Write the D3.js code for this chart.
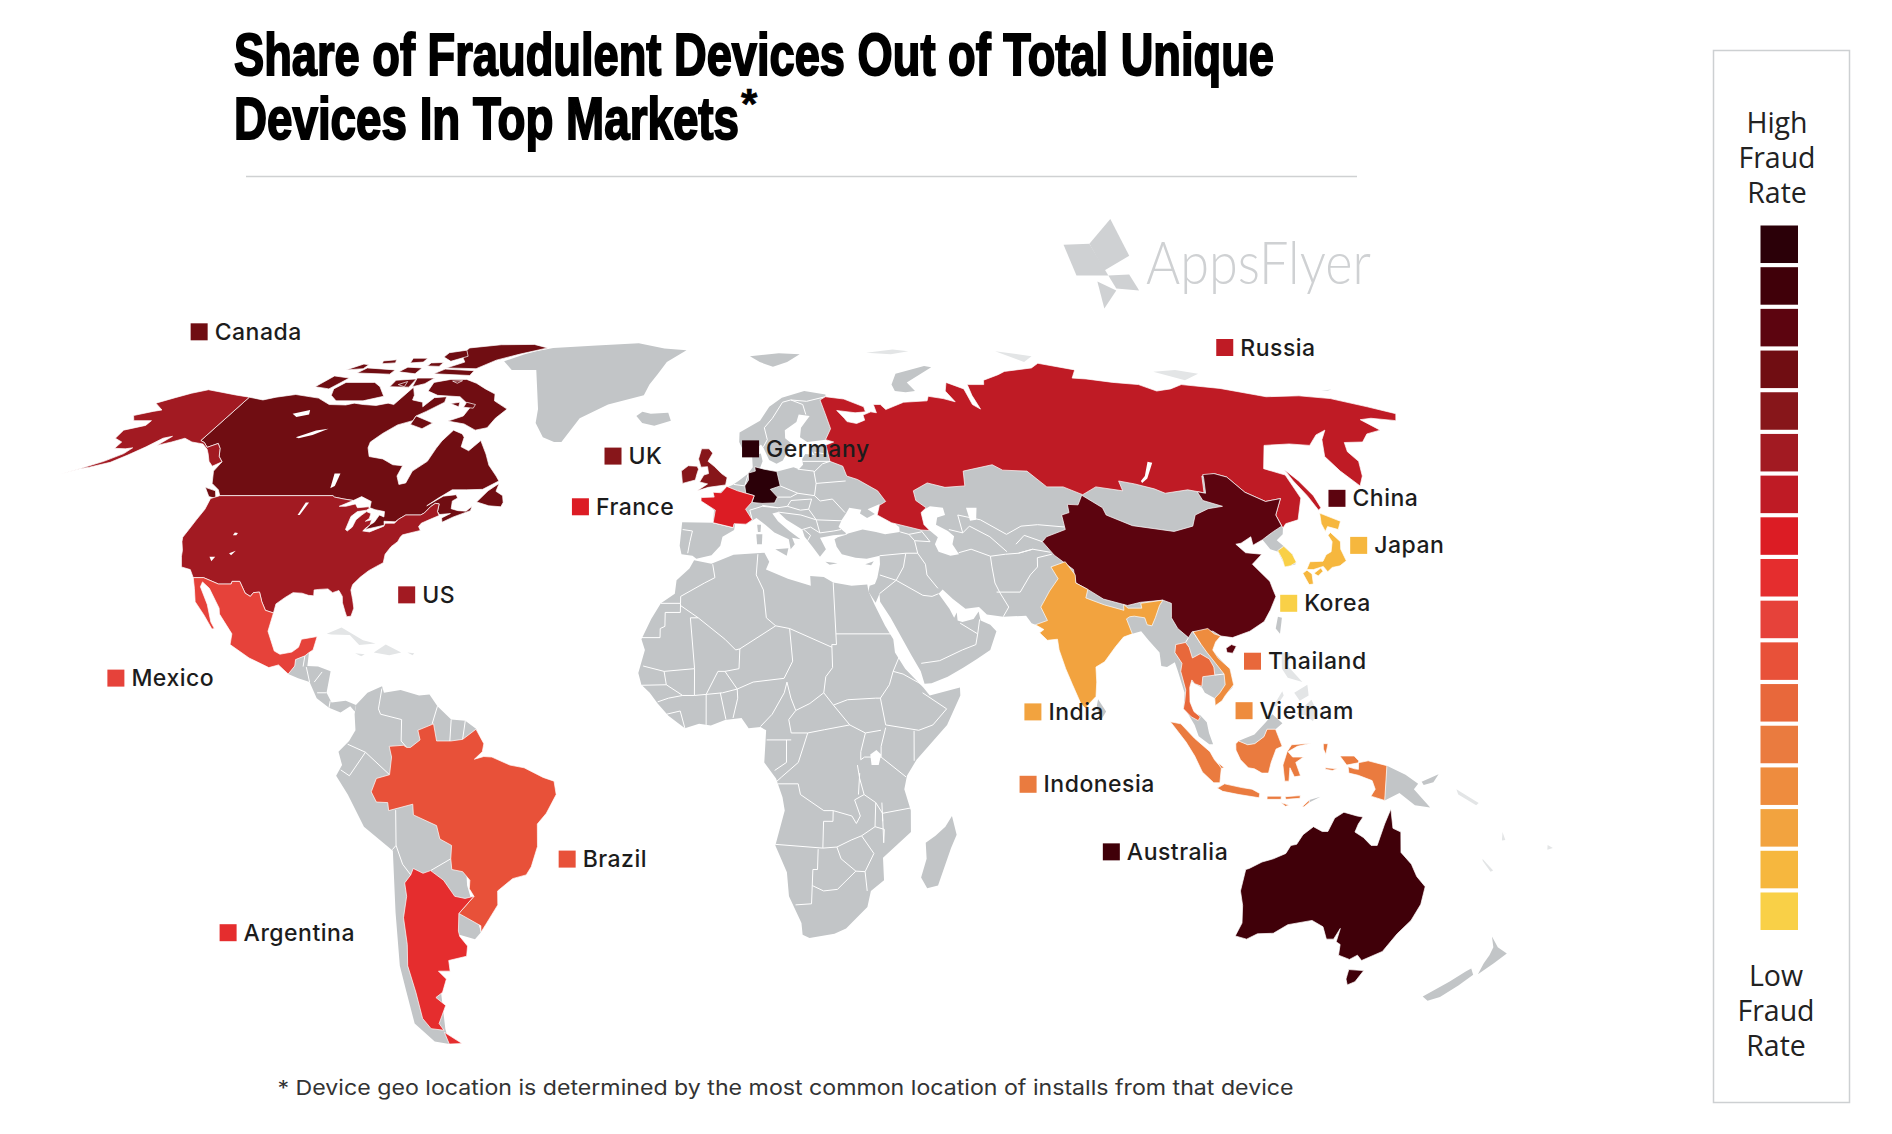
<!DOCTYPE html>
<html><head><meta charset="utf-8">
<style>html,body{margin:0;padding:0;background:#fff}svg{display:block}</style>
<script src="https://cdn.jsdelivr.net/npm/d3@7"></script></head><body>
<script>
// ---------- DATA ----------
const titleLines = ["Share of Fraudulent Devices Out of Total Unique", "Devices In Top Markets"];
const footnote = "* Device geo location is determined by the most common location of installs from that device";
const scaleColors = ["#2b0008","#400009","#5c040f","#700d12","#87161a","#a21a22","#bf1b25","#dc1c24","#e52d2e","#e6423a","#e85139","#e8683b","#ea7b3f","#ee8c3e","#f2a33f","#f6b73e","#f9d047"];
const highLabel = ["High","Fraud","Rate"];
const lowLabel = ["Low","Fraud","Rate"];
// fraud level = index in scaleColors (0 highest)
const marketNames = ["Canada","Russia","UK","Germany","France","China","Japan","Korea","Thailand","Vietnam","India","Indonesia","Australia","US","Mexico","Brazil","Argentina"];
const marketLevels = [3,6,4,0,7,2,15,16,11,13,14,12,1,5,9,10,8];

// outlines, [lon, lat]
const canadaLand = [
[[-141,69.6],[-136,69],[-133,69.6],[-128,70.2],[-124,69.8],[-120,69.4],[-115,68],[-110,67.9],[-108,68.3],[-105,68],[-101,67.8],[-98,68.3],[-96,68],[-94.5,71.9],[-92,70],[-91.5,69],[-88,68.5],[-87,67.5],[-85.5,69.5],[-82,69.7],[-81.5,68.5],[-85,66.5],[-87,65.5],[-87,64.5],[-90.5,63.6],[-93,61.8],[-94.7,60],[-94.3,58.8],[-92.5,57],[-88.5,56.5],[-85,55.3],[-82.3,55.1],[-82.2,53],[-80.5,51.3],[-79,51.6],[-79,54],[-76.5,56],[-76,58.7],[-75.5,60.2],[-74,62.5],[-71,61.7],[-70,61],[-69.5,59],[-67,58.2],[-65,60.3],[-62,57.5],[-60,55.2],[-57,53],[-55.8,52],[-59,50.3],[-63,50.2],[-66.5,50.2],[-69,48.5],[-71,46.9],[-68,48.9],[-65,49.2],[-64.3,48.5],[-65.3,47.9],[-64.8,46.3],[-63,45.9],[-61,45.8],[-60,46.8],[-60,45.9],[-63.5,44.6],[-65.7,43.5],[-66.2,44.4],[-64.5,45.3],[-67,45.1],[-67.8,45.7],[-68.2,47.3],[-69.2,47.4],[-70,46.7],[-70.8,45.4],[-71.5,45],[-75,45],[-76.3,44.1],[-76.8,43.6],[-79.5,43.7],[-79,42.9],[-83,42],[-82.4,43],[-81.7,43.5],[-81.3,45],[-80,44.6],[-80.5,45.7],[-83,46.1],[-84.5,46.5],[-85,47.8],[-88,48.8],[-89.5,48],[-92,48.3],[-94.6,48.7],[-95.2,49],[-123,49],[-124.5,50.2],[-127.5,51.5],[-130,54],[-130,55.9],[-132,57],[-133.8,58.7],[-135.5,59.7],[-137.5,58.9],[-139.5,59.9],[-141,60.3]],
[[-80,73.7],[-76,72.8],[-72,71.5],[-68,70.3],[-67,68.8],[-62,67],[-64,65],[-65,63],[-68,62.5],[-72,63.8],[-77,64.4],[-73.5,65.5],[-73,67.5],[-78,69.7],[-85,70],[-89,71],[-89.5,73],[-85,73.7]],
[[-117,73],[-108,73],[-105,72],[-101,69.8],[-106,68.8],[-114,68.8],[-117,70],[-118.5,71.5]],
[[-125,72],[-120,71.5],[-117.5,74],[-123,74.5]],
[[-90,76.5],[-80,76.3],[-76,78.5],[-70,80],[-62,82],[-68,83.1],[-80,83],[-90,82],[-90,80],[-86,78]],
[[-92,75],[-80,74.6],[-80,75.8],[-90,76.2]],
[[-95,80.5],[-90,81.3],[-87,79.5],[-91,78.2],[-95,79.3]],
[[-117,75.2],[-106,74.9],[-106,76],[-116,76.5]],
[[-104,75.5],[-98,75],[-98,76.5],[-103,76.7]],
[[-102,73.5],[-96,73.8],[-96,71.9],[-102,72]],
[[-96,74],[-90.5,74],[-92,72.7],[-95,72]],
[[-87,65.5],[-81,64],[-83,62.8],[-87,63.7]],
[[-59.3,47.7],[-56,46.9],[-53,46.7],[-52.8,47.6],[-53.5,49],[-55.5,49.9],[-55.5,51.5],[-57.5,50]],
[[-128.3,50.7],[-125,50],[-123.4,48.4],[-125.5,48.8]],
[[-105,79],[-100,79],[-100,78],[-104,77.8]],
[[-122,76],[-117,76.3],[-117,77.3],[-119,77.5]],
[[-75,68.5],[-72,68],[-72,67.2],[-75,67.4]],
[[-114,78.3],[-110,78.6],[-109,77.8],[-113,77.6]],[[-97,77.8],[-93,77.9],[-93,76.9],[-97,77]],[[-100,72.5],[-98,73.2],[-97.5,72]],[[-79.5,68.2],[-77,68.5],[-76.5,67.5]],[[-84,73.3],[-81,73.4],[-82,72.8]]];
const usLand = [
[[-124.7,48.4],[-123,49],[-95.2,49],[-94.6,48.7],[-92,48.3],[-89.5,48],[-92.1,46.8],[-90.5,46.8],[-88.5,47.3],[-87.5,46.5],[-85,46.7],[-84.5,46.4],[-85,46],[-87,45.7],[-87.9,44.7],[-87.6,42],[-87,41.7],[-86.3,42.5],[-86.3,44],[-85.5,45],[-84.8,45.7],[-83.5,45.3],[-83.3,44.3],[-83.9,43.7],[-82.6,44],[-82.4,43],[-83.1,42.2],[-83.4,41.7],[-81.7,41.5],[-79,42.7],[-79,43.3],[-76.8,43.3],[-76.3,44.1],[-75,45],[-71.5,45],[-70.8,45.4],[-70,46.7],[-69.2,47.4],[-68.2,47.3],[-67.8,45.7],[-67,44.9],[-69,44],[-70.5,43.3],[-70.8,42.6],[-70,41.8],[-71.3,41.5],[-73.7,40.9],[-74,40.5],[-74.2,39.5],[-75.3,38.5],[-76,37],[-75.7,35.3],[-77,34.6],[-78.5,33.8],[-80,32.6],[-81.3,31.2],[-81.4,30.2],[-80.6,28.4],[-80,26.8],[-80.3,25.3],[-81.2,25.2],[-81.8,26.2],[-82.7,27.8],[-83,29],[-84,30.1],[-85.3,29.7],[-86.5,30.4],[-88.5,30.3],[-89.5,30.2],[-89.3,29.1],[-90.5,29.2],[-92,29.6],[-94,29.7],[-95.5,28.8],[-97.2,27.6],[-97.3,25.9],[-99.2,26.4],[-100.4,28],[-101.4,29.8],[-102.7,29.7],[-103.2,29],[-104.5,29.6],[-106.5,31.8],[-108.2,31.8],[-108.2,31.3],[-111,31.3],[-114.8,32.5],[-117.1,32.5],[-118.4,34],[-120.6,34.5],[-121.9,36.6],[-122.5,37.8],[-123.8,39.5],[-124.3,40.4],[-124.2,42],[-124.1,44],[-124,46.2]],
[[-141,69.6],[-141,60.3],[-139.5,59.9],[-137.5,58.9],[-135.5,59.7],[-133.8,58.7],[-132,57],[-130,55.9],[-131.5,55],[-133.5,56],[-135.5,57.5],[-137,58.5],[-139.5,59.6],[-143,60],[-146,60.8],[-148.5,60],[-151.5,59.3],[-150,61.2],[-152,60.8],[-154,59],[-156.5,57.3],[-159,55.8],[-163,54.8],[-165,54.5],[-168.5,53.3],[-164,54.9],[-161,56],[-158,57.6],[-157.3,58.8],[-159,58.6],[-162,58.7],[-162,60],[-165,60.8],[-165.5,62.5],[-161,63.5],[-161,64.5],[-166,64.5],[-168,65.6],[-164,66.5],[-162,66.8],[-166.5,68.3],[-163,69.5],[-160,70.5],[-156.5,71.3],[-152,70.8],[-146,70.1]]];
const mexicoLand = [[[-117.1,32.5],[-114.8,32.5],[-111,31.3],[-108.2,31.3],[-108.2,31.8],[-106.5,31.8],[-104.5,29.6],[-103.2,29],[-102.7,29.7],[-101.4,29.8],[-100.4,28],[-99.2,26.4],[-97.3,25.9],[-97.8,22.5],[-95.8,18.8],[-94.5,18.2],[-92,18.6],[-90.7,19.5],[-90.3,21],[-87,21.5],[-87.5,19],[-88.3,18.5],[-89.1,17.9],[-91,17.2],[-91,16],[-92.2,14.5],[-94.5,16.2],[-96.5,15.7],[-101,17.5],[-105.5,20],[-105.5,22],[-109,25.7],[-109.4,26.8],[-112.7,30.5],[-114.7,31.7],[-114.8,30.8],[-112.2,27.5],[-110.5,24.2],[-109.5,23],[-110,22.9],[-112.3,25.5],[-115,28],[-116,30.5]]];
const brazilLand = [[[-51.7,4.2],[-50,1.5],[-50.3,0],[-52,-1.4],[-50,-0.9],[-48.3,-1],[-44.5,-2.5],[-41.5,-3],[-37.5,-4.8],[-35.2,-5.5],[-34.8,-8],[-37,-11.5],[-39,-13.5],[-39.2,-17.7],[-40.8,-21.5],[-42,-23],[-45,-23.7],[-48.5,-26],[-48.8,-28.6],[-52,-32.2],[-53.4,-33.7],[-53.2,-32.5],[-57.6,-30.2],[-53.8,-27],[-54.6,-25.6],[-54.3,-24],[-55.7,-22.4],[-58,-22],[-58,-20],[-57.6,-17.5],[-60,-16.3],[-60.5,-13.8],[-65.3,-11.8],[-65.3,-9.8],[-70.5,-11],[-70.6,-9.5],[-73,-9.4],[-74,-7.5],[-72.8,-5],[-70,-4.3],[-69.5,-1],[-70,1],[-67,1.2],[-66.3,0.8],[-65.5,0.8],[-63.5,2.2],[-64,4],[-60.7,5.2],[-60,2],[-57,2],[-54.5,2.3]]];
const argentinaLand = [[[-66.3,-21.8],[-64.3,-22.7],[-62.6,-22.2],[-60,-24],[-58,-27],[-55.8,-27.4],[-53.8,-27],[-57.6,-30.2],[-58.4,-33.5],[-58.3,-34.5],[-57,-36.3],[-57.7,-38.2],[-62,-39],[-62.3,-41],[-65,-41],[-63.7,-42.5],[-65.5,-45],[-67.5,-46],[-65.8,-47.5],[-69,-51],[-68.5,-52.3],[-71.5,-52],[-72.5,-50],[-71.8,-45],[-71.7,-40],[-70.5,-36],[-70,-31],[-68.5,-27],[-68.5,-24.5],[-67,-23]],
[[-68.6,-52.7],[-65.3,-54.9],[-68.6,-55]]];
const ukLand = [[[-5,58.6],[-3,58.6],[-2,57.7],[-3.2,56],[-1.6,55],[0.3,53.5],[1.7,52.7],[1.3,51.2],[-3,50.7],[-5.7,50],[-3.2,51.4],[-5.2,51.8],[-4.2,53.2],[-3,53.5],[-3.3,54.9],[-5,54.8],[-5.7,56.5]],
[[-6,53.3],[-6.3,52.2],[-9.5,51.5],[-10,54],[-8.3,55.1],[-6,55],[-5.6,54.4]]];
const franceLand = [[[1.6,50.9],[4.2,50],[8.2,49],[7.5,47.6],[6,46.2],[7.5,44],[6,43.1],[3.2,43.2],[3,42.4],[-1.7,43.4],[-1.2,46],[-4.7,47.9],[-4.7,48.6],[-1.5,48.7],[-1.8,49.7],[0.2,49.6]]];
const germanyLand = [[[7,53.6],[8.8,54],[8.7,54.9],[11,54.4],[14.2,53.9],[14.7,51],[12.2,50.3],[13.8,48.7],[13,47.5],[10,47.4],[7.6,47.6],[8.2,49],[6.2,49.5],[6,51],[7,52.2]]];
const russiaLand = [[[30.8,69.7],[36,69.2],[41,67.5],[41,66.4],[38,66.2],[34,66.6],[33,66.7],[34.5,65],[35,64.3],[37.5,63.9],[40,64.6],[40,65.7],[42.5,66.4],[44,66.2],[44,68],[46,68],[47,66.9],[53,68.5],[60,68.8],[61,69.8],[65,69.3],[68,68.6],[67,71],[69,73],[73,71.5],[72.5,68],[74,67],[74,70],[75,72.5],[80,72.5],[81,73.5],[87,74.8],[90,75.6],[100,76.5],[104,77.7],[113,76],[109,74],[113,73.8],[120,73],[127,72.5],[130,71],[135,71.5],[140,72.5],[150,71.6],[160,69.7],[170,69.9],[178,69.3],[185,67.5],[190,66],[187,64.5],[181,65],[177.5,64.7],[179,62.5],[174,61.7],[170,60],[165,59.9],[163,58],[163,56],[160,53],[157,51],[155.7,54],[155.7,57],[160,60.5],[164,62.5],[160,61.5],[155,59.3],[150,59.6],[143,59.3],[137,54.5],[141,53.2],[140,48.5],[135.5,44],[132,43.2],[130.7,42.3],[131,45],[135,48.4],[130.9,47.8],[127.5,49.7],[126,52.8],[123.5,53.5],[120,53],[117.5,49.6],[114,50.2],[108,49.5],[106,50.4],[102,51.4],[98.5,52],[98,50],[92,50.8],[87.8,49.2],[84,50.8],[80,50.8],[77,54],[71,54.2],[69,55.3],[61,54],[60,51],[55,50.7],[51,51.6],[47,50],[47,48],[49,46.5],[47.5,45.5],[47.5,43],[48.5,41.8],[46.5,41.9],[40,43.4],[37,45],[38,47],[39.7,47.8],[38.3,50],[34,52.3],[31.5,53],[31,55],[28,56],[27.8,59.4],[30,60],[28,60.5],[30,62.8],[29.5,66],[29,69]],
[[142,54.3],[143,52],[143.5,49],[143,46.5],[142,46],[142,49],[141.7,52]]];
const chinaLand = [[[73.7,39.5],[75,40.5],[80,42],[80.5,45],[82.5,45.5],[83,47.2],[85.5,47.1],[87.5,49.1],[91,46.5],[91,45],[96,42.8],[105,41.6],[110,42.7],[112,45],[116,46.3],[119.8,46.8],[116,48],[116,49.8],[117.8,49.5],[120,52.5],[120.5,53.3],[123.5,53.5],[126,52.8],[127.5,49.7],[130.9,47.8],[135,48.4],[131,45],[130.7,42.7],[128,41.6],[126,40.7],[124.3,39.9],[121.5,38.8],[122,40.5],[119,39.2],[117.7,39],[119,37.3],[122.5,37],[119.3,35],[121.8,31.8],[121.8,30.5],[122,29],[120,26.5],[118,24.3],[114.5,22.5],[110.5,21.3],[108,21.6],[106.5,22.5],[102,22.4],[101,21.3],[99,23],[98,25],[98.7,27.7],[97,28.3],[92,27.9],[89,27.3],[84,28.5],[81,30.3],[78.7,31.5],[78.9,34],[75.5,36.8]],
[[108.7,19.3],[110,20],[111,19.7],[110,18.4],[108.8,18.5]]];
const indiaLand = [[[74,34.5],[77.5,35.5],[79,33],[78.7,31.5],[81,30.3],[80.2,28.7],[84,27.4],[88,26.4],[88.2,27.5],[89,26.8],[92,26.8],[92,27.7],[97,28.3],[96,27.3],[94.5,25],[93.5,23.5],[92.5,23.7],[92.2,25],[90,25.3],[89,25.2],[88.2,24.8],[89,22],[87,21.4],[85,19.6],[82.3,16.8],[80.3,15.8],[80.2,13],[79.8,10.3],[78.2,8.9],[77.5,8],[76.5,9],[75,12.5],[73.8,15.5],[72.8,19],[72.7,21],[70.5,20.8],[69,22.2],[70,22.8],[68.3,23.7],[71,24.5],[70,27],[72.5,30],[75,32.3]]];
const thailandLand = [[[98.6,9.5],[98.2,8],[99.8,6.5],[101.2,5.8],[101.7,6.5],[100.4,7.5],[99.7,9.3],[99.9,12],[100.5,13.4],[101,12.7],[102.5,12.2],[102.9,14],[105.5,14.3],[105.5,15.8],[104.8,17.3],[103,18.3],[101.2,17.5],[100.8,19.5],[100.2,20.4],[98,20],[97.6,18.5],[98.8,16.5],[98.3,15],[99,11.5]]];
const vietnamLand = [[[102.2,22.4],[105.5,23],[106.7,22],[108,21.6],[106.7,20.5],[105.8,19],[106.7,17.5],[108.9,15.5],[109.3,12.5],[107.3,10.5],[106.5,9.5],[105,8.6],[105,10],[106.2,11],[107.5,12.5],[107.5,14.5],[106,16.5],[104.5,18.5],[103.5,20]]];
const indonesiaLand = [
[[95.3,5.6],[97.5,5.2],[100.3,2.5],[103.5,0],[104.5,-1.5],[106,-3],[105.8,-5.8],[104.5,-5.8],[102,-3.8],[100.3,-0.8],[98.5,1.8]],
[[105.3,-6.8],[106.8,-6],[110.5,-6.7],[112.7,-7],[114.4,-7.8],[114.3,-8.6],[110,-8],[106.5,-7.4]],
[[109,1.5],[109.6,2],[111.5,1.3],[113,1.5],[115,2.8],[115.7,4.2],[117.5,4.2],[118.8,1],[117.5,0.5],[116.5,-2],[116,-4],[114.6,-4],[113,-3.2],[111.7,-3],[110,-1.5],[109,0.3]],
[[119.5,-5.5],[120.4,-5.5],[120.5,-3],[121.5,-4.7],[122.8,-4.5],[121.7,-2],[123.3,-1],[121,-1],[120,0],[122,1],[125,1.6],[120.8,1.3],[119.8,0],[119,-2.5]],
[[141,-2.6],[141,-9.1],[138,-8.3],[138.8,-7],[138,-5.4],[135,-4.4],[133,-4],[132.8,-2.8],[134.2,-3.2],[135,-3.3],[135,-1.7],[134,-0.8],[131,-0.8],[132.5,-2.5],[137,-1.7]],
[[127.5,1.5],[128.5,1.5],[128,-0.5],[127.5,0.5]],
[[128,-3],[130.5,-3.2],[129.5,-3.5],[128,-3.3]],
[[116,-8.3],[119,-8.3],[119,-8.9],[116,-8.9]],
[[119.8,-8.4],[123,-8.2],[123,-8.7],[120,-8.9]],
[[123.6,-10.3],[125,-9],[125,-9.5],[124,-10.3]],
[[119,-9.5],[120.8,-10],[120,-10.2]],
[[105.2,-2],[106.6,-3],[106,-3.1]]];
const japanLand = [
[[141,41.4],[141.9,39.5],[141,38],[140.8,35.7],[138.8,34.7],[136.9,34.4],[135.5,33.6],[135,34.6],[132.5,34],[131,34],[132.5,35.5],[135.5,35.6],[137,36.9],[138.5,37.5],[140,39.5],[140,40.8]],
[[140,41.6],[140.3,43.2],[141.7,45.4],[145.2,43.7],[143.3,42],[141.3,42.6]],
[[132.3,33.3],[134.3,34.3],[134.5,33.7],[133,32.8]],
[[129.8,33.3],[131,33.9],[131.8,33.2],[131.2,31.3],[130.2,31.2]]];
const koreaLand = [[[126.5,37.7],[128.4,38.6],[129.4,37],[129.4,35.4],[127.7,34.7],[126.3,34.5],[126.6,36]]];
const australiaLand = [
[[113.5,-22],[114.2,-21.8],[116.7,-20.6],[119,-20],[121.5,-19],[122.3,-17.5],[123.5,-17.3],[124.5,-15.5],[126.5,-14],[128.5,-14.9],[129.7,-14.9],[130.8,-12.4],[132.6,-11.3],[135.5,-12],[136.8,-12.2],[136,-13.5],[135.5,-15],[137.5,-16],[139.5,-17.5],[140.8,-17.5],[141.6,-13.5],[142.5,-10.7],[143.5,-14.3],[145.3,-15],[146.2,-18.8],[149,-21],[150.8,-23.3],[153.2,-25.2],[153.6,-28.5],[152.9,-31.5],[151.2,-34],[150,-37.3],[146.4,-39],[144.8,-38],[143.5,-38.8],[140.5,-38],[139.6,-36],[138.4,-35.5],[138,-33],[137.5,-35],[136,-35],[135.8,-34.9],[134,-32.7],[131,-31.5],[126,-32.3],[123.5,-33.9],[120,-34],[118,-35],[115.2,-34.4],[115.7,-32],[114.6,-28.7],[113.3,-26]],
[[144.7,-40.7],[148.3,-40.9],[148,-43],[146.7,-43.6],[145.5,-42.5]]];
const marketLands = [canadaLand,russiaLand,ukLand,germanyLand,franceLand,chinaLand,japanLand,koreaLand,thailandLand,vietnamLand,indiaLand,indonesiaLand,australiaLand,usLand,mexicoLand,brazilLand,argentinaLand];

const grayLand = [
// Europe + Asia (runs under the coloured countries)
[[31,70.2],[25,71],[18,69.5],[14,67.5],[11,64.5],[5.2,62],[5,60],[6,58.2],[8.5,58],[10.7,59.5],[11.3,58.8],[12.5,56.3],[14.3,55.5],[16,56.2],[18.8,59.7],[17.3,60.8],[17.5,62.5],[21,64.2],[22,65.8],[25,65.5],[22,63],[21.3,61],[23,60],[28,60.5],[30,60],[28.2,59.4],[24.5,59.4],[23.5,58.7],[24.3,57.3],[22,57.5],[21,56.5],[21,55.3],[19.8,54.4],[18.5,54.8],[14.3,53.9],[11,54],[10,54.6],[10.8,56],[10.5,57.6],[8.2,57],[8.2,54.8],[7,53.5],[4.5,52],[3,51.2],[1.8,50.8],[-1.5,48.8],[-4.6,48.4],[-1.5,46],[-1.7,43.4],[-9,43.5],[-9.3,38.7],[-8.8,37],[-6.3,36.7],[-5.4,36.1],[-2,36.8],[0,38.7],[0.5,40.5],[3.2,41.9],[3.5,43.3],[6,43.1],[8.5,44.4],[10.5,43],[12.5,41.4],[15.7,40],[16,38],[17,39],[16.5,40.3],[18.4,40],[16,41.7],[13.5,43.7],[12.3,45.3],[13.7,45.6],[15.5,44],[19,42],[19.4,40.5],[21,38.5],[22.5,36.5],[24,38],[22.9,40.3],[26,40.8],[28.9,41],[29,41.3],[27.5,42.5],[28.5,44],[29.7,45.3],[30.7,46.5],[33.5,46.1],[33,45.3],[34.5,44.4],[36.5,45.2],[35,46.2],[38,47.2],[40,45],[41,43],[41.6,42.5],[41.5,41.5],[38,41],[36,41.5],[33,42],[29.5,41.2],[29,40.9],[27,40.4],[26.2,40],[26.5,38.5],[27.5,37],[30.5,36.3],[33,36.1],[36,36.7],[35.8,35],[34.9,32.5],[34.2,31.3],[33,31],[32.6,29.9],[34,27.8],[35,29.5],[35,28],[37,25],[39,21.5],[41,18],[42.8,15],[43.5,12.7],[45,12.8],[48.5,14],[52,15.7],[55,17.3],[58,19],[59.7,22.5],[58.5,23.7],[56.5,24.5],[56.3,26.2],[55,24.8],[52.5,24.2],[51.5,24.5],[51.5,26],[50.8,25],[50,26.7],[48,29.5],[49,30.3],[51,28.5],[53.5,26.7],[56.5,27],[58,25.6],[61.5,25.2],[66.5,25.4],[67.5,24],[68.3,23.7],[80,20],[88.5,22.5],[89,22],[91,22.5],[92.3,20.8],[94.3,18.5],[94.3,16],[95.5,15.8],[97.3,16.7],[97.7,15],[98.7,11],[98.3,8.5],[99.5,6.5],[100.4,5],[101.2,2.9],[103.4,1.4],[104.2,1.4],[103.4,3.5],[103,5.5],[101.7,6.8],[100.5,7.2],[99.5,9.3],[99.3,11],[100.2,13.4],[101,12.7],[102.5,12],[103,11],[105,10],[105,8.7],[106.5,10],[109,12],[109,15],[106.5,18],[105.7,19],[106.7,20.7],[108,21.6],[115,30],[118,36],[116,39],[119,40.5],[123,41],[124.3,39.9],[125,38],[126.5,37.5],[126.5,34.5],[129,35],[129.5,37],[128.4,38.6],[127.5,39.8],[129.7,41],[130.7,42.3],[130,50],[120,60],[90,60],[50,60],[31,64],[30.8,69.7]],
// Africa
[[-5.9,35.8],[-2,35.1],[3,36.9],[10,37.3],[11,35.5],[10.2,34],[15,32.3],[20,31],[20,32.8],[23,32.6],[25,31.6],[29,31],[32.5,31.2],[32.6,30],[33.8,27.3],[35.7,23.5],[37.3,21],[37.5,18.5],[39.5,15.5],[43.2,12],[44.5,10.5],[51,12],[51,10.5],[48,5],[41.5,-1.5],[39.5,-4.5],[39,-7],[40.5,-11],[40.7,-15],[35,-19.8],[35.5,-24],[32.8,-26],[32.3,-29],[28,-33],[25.5,-34],[20,-34.8],[18.4,-34.2],[18,-32],[15,-27],[14.4,-22.5],[11.8,-17.5],[13.7,-11],[13.2,-8.5],[11.8,-5],[9.3,-2],[9.5,1],[9.7,4],[8.5,4.6],[6,4.4],[4.5,6.3],[1,5.9],[-2,4.9],[-4.5,5.2],[-7.5,4.4],[-11,6.7],[-13.3,9],[-15,11],[-16.8,12.5],[-17.5,14.7],[-16.2,19],[-17,21],[-15,24.8],[-13,27.7],[-10,29.5],[-9.7,32],[-6.9,34.2]],
// South America without Brazil and Argentina
[[-77.3,8.7],[-75,11],[-72,12.2],[-71.5,11],[-68,11.5],[-64,10.5],[-61.8,10.7],[-60,8.5],[-57,6],[-54,5.8],[-51.7,4.3],[-50.5,1.8],[-55,-5],[-55,-25],[-53.4,-33.7],[-55,-35],[-58.3,-34.2],[-64,-35],[-68,-52],[-68.6,-55],[-72,-54.5],[-75,-51],[-74,-45],[-73.5,-40],[-71.5,-30],[-70.3,-18.5],[-76,-14],[-79,-8],[-81.3,-4.5],[-80,-2.5],[-80.7,0],[-78.5,2],[-77.2,4],[-77.5,7]],
// Central America
[[-92.2,14.5],[-91,16],[-91,17.2],[-89.1,17.9],[-88.3,18.5],[-88.3,16],[-86,15.9],[-83.2,15],[-83.7,11],[-82.5,9.2],[-79.5,9.5],[-77.3,8.7],[-77.5,7.5],[-78.5,8.5],[-80.5,7.3],[-83,8.2],[-85.7,10],[-87.5,13],[-90,13.7]],
// Greenland, Iceland, Madagascar, Sri Lanka, Taiwan, Malaysian Borneo, New Guinea and Mediterranean islands
[[-73,78.2],[-68,76],[-60,76],[-55,70],[-53,67],[-52,64],[-48.5,61],[-45,60],[-43,60],[-40,65],[-33,68],[-23,70],[-22,72.5],[-20,75],[-18,78],[-12,81.3],[-20,81.8],[-30,83.5],[-45,82.8],[-60,82],[-65,81],[-68,80]],
[[-24,65.5],[-22,64],[-18.5,63.4],[-14,64.5],[-15,66.2],[-20,66],[-22.5,66.4]],
[[49.3,-12],[50.5,-15.5],[49.5,-18],[47.3,-25],[45,-25.5],[43.5,-23.5],[44.4,-20],[44,-17],[46,-15.7],[48,-14]],
[[79.8,8.2],[80.2,9.8],[81.8,7.5],[80.7,6]],
[[120.2,23],[121.2,25.2],[122,25],[120.9,22]],
[[109.6,2],[111.5,1.3],[113,1.5],[115,2.8],[115.7,4.2],[117.5,4.2],[119,5.3],[117,7],[115.5,5.5],[113,3.2],[111,2.5]],
[[141,-2.6],[145,-4.3],[147.8,-6],[147,-7],[150.8,-10.4],[147.5,-10],[144,-7.7],[141,-9.1]],
[[148.5,-5.6],[152,-4.2],[151,-5.7],[149,-6.2]],
[[125,-9],[127.3,-8.4],[125,-9.5]],
[[172.7,-34.5],[175.5,-36.5],[178.5,-37.7],[177,-39.5],[175.3,-41.6],[174.7,-39.5],[174.8,-38],[174.5,-36.5]],
[[172.7,-40.5],[174.3,-41.7],[172.8,-43.7],[170.7,-45.9],[168.5,-46.6],[166.5,-45.8],[170,-43],[172,-41]],
[[8.3,41],[9.7,41],[9.5,39],[8.4,39]],[[8.6,43],[9.5,43],[9.3,41.5],[8.7,41.5]],[[12.5,38],[15.5,38.2],[15,36.7]],[[23.6,35.5],[26.3,35.2],[24.5,34.9]],[[32.5,35],[34.5,35.6],[33.8,34.8]],
[[10,79.5],[20,80.3],[27,80],[22,78],[17,76.8],[13,78]],
[[52,71],[55,70.7],[58,71],[57,73],[68,76.7],[66,77],[55,75],[52,72.5]]];
const paleLand = [
[[-85,22],[-82,23.2],[-77,20.8],[-74.2,20.2],[-77.7,19.9],[-80,21.8],[-84,21.9]],
[[-74.4,18.5],[-72,20],[-68.5,18.5],[-71,18]],
[[-78.4,18.4],[-76.3,18.2],[-77,17.8]],[[-67.2,18.5],[-65.7,18.4],[-66,18]],
[[120.5,18.5],[122.2,18.4],[121.5,15.8],[124,13],[121,13.8],[120,15.5]],
[[122,7],[125.5,9.7],[126.5,7.5],[125.5,5.7],[124,6.8]],
[[122,11],[125,12.5],[125,10.5],[123,9.5]],[[117.3,8.5],[119.5,11.3],[119.7,10.5],[118,8.5]],
[[50,80.5],[60,81.5],[65,81],[58,80]],[[95,81],[105,79.5],[100,78]],[[137,75.5],[145,76],[150,75],[143,73.5]],[[181,71],[183,71.4],[179,71]],
[[164,-20],[167,-22.2],[166.5,-22.4],[164.2,-20.4]],[[156,-7],[161,-9.6],[160.5,-10],[156.5,-8]],[[167,-15],[168,-16.5],[167.3,-16.6]],[[177.3,-17.4],[178.6,-18],[177.5,-18.3]]];
const whiteLakes = [
[[47,45.5],[50,46.8],[53,46.5],[53,45],[51,44.5],[50.3,43],[52.7,41.7],[53.8,40.6],[53,39],[54,37],[52,36.7],[49.5,37.5],[49,39],[50,40.4],[48.5,41.8],[47.5,43],[47,45]],
[[58.5,46.5],[61,46.5],[60,44],[58.5,43.8]],
[[31.7,-0.5],[33,0.3],[34,-0.5],[33.5,-2.5],[32,-2.5]],
[[-123,66],[-119,66.8],[-118,65.8],[-121,65.3]],
[[-116,61],[-112,62.4],[-109,62.8],[-112,61.5],[-115,60.8]],
[[-98.5,53.5],[-97,53.5],[-96.3,51],[-97,50.5]],
[[-113,41.4],[-112.2,41.3],[-112.2,40.8],[-113,40.8]],[[-100.8,47.6],[-100,47.6],[-100.3,45],[-100.8,45]],[[-115.5,36.5],[-114.2,36.5],[-114.5,35.6]],[[-111.5,37.2],[-110.3,37.7],[-110.8,36.8]],
[[104,51.6],[106,52.5],[110,55.7],[109,55.9],[105.8,53],[104,52]]];
const grayBorders = [
[[-1.7,35],[-1.2,32.5],[-3.5,31.5],[-8.7,29],[-8.7,27.7]],[[-13,27.7],[-8.7,27.7],[-8.7,26],[-12,26],[-12,23.4],[-13,23],[-13,21.3],[-17,21.3]],[[-8.7,27.3],[-4.8,25],[-6.5,25],[-5.5,15.5],[-12,15],[-16.5,16]],[[-4.8,25],[1,21],[3.3,19],[4.2,19.2],[12,23.5]],[[8.5,37],[8,33],[9.5,30.2],[10,25],[12,23.5]],[[25,31.6],[25,20],[24,20],[24,19.5]],[[25,22],[36.9,22]],[[12,23.5],[15,23],[24,19.5],[24,15.7],[22.5,14],[22,11],[24,8.7]],[[4.2,19.2],[4,15.5],[1,15],[3.6,11.7],[3.7,10],[2.7,6.3]],[[3.6,11.7],[7,13],[13.6,13.7],[15.5,16.9],[15,23]],[[8.5,4.7],[11,7],[13.6,11],[14.2,13]],[[14.2,13],[15,10],[16,7.7],[19,9],[22,11]],[[14.5,6],[16,7.7]],[[14.5,6],[15,3.5],[18.5,3.5],[22,4.1],[27.4,5],[24,8.7]],[[24,8.7],[27,9.7],[33,10],[34,10]],[[36.9,15],[36,12.5],[34,10],[35,5]],[[36.9,15],[39,14.5],[43,12.5]],[[38.5,18],[36.9,15]],[[43,11],[48,8],[45,5],[42,4],[35,5]],[[41,3.9],[41,-1.7]],[[35,4.5],[34,1],[34,-1],[39.3,-4.7]],[[30.7,3.5],[29.7,0],[29.7,-1.5],[30.5,-1],[34,-1]],[[30.7,3.5],[34,4]],[[27.4,5],[30.7,3.5]],[[18.5,3.5],[16.5,-2],[13,-4.7],[12,-5.5]],[[9.8,2.2],[15,2.2]],[[14,2.2],[14,-2],[11.5,-3.5]],[[12.2,-6],[16.5,-6],[17,-8],[22,-11],[24,-11],[24,-13],[22,-13],[22,-18],[11.8,-17.3]],[[24,-11],[28,-12],[29,-13.4],[29.8,-12],[28.5,-9],[30.5,-8],[29.5,-5],[29,-2.5]],[[30.5,-8],[33,-9.5],[34.5,-11.5],[40.5,-10.5]],[[33,-9.5],[33,-14],[35,-14.5],[35,-17],[34.5,-11.5]],[[33,-14],[30.2,-15.7],[33,-19],[31.3,-22.4],[32,-26]],[[22,-18],[25,-17.8],[28,-16.5],[30.2,-15.7]],[[21,-18.2],[21,-22],[20,-22],[20,-28.4],[16.5,-28.6]],[[20,-25],[22.5,-26],[25.5,-25.7],[29.3,-22.3],[31.3,-22.4]],[[25,-17.8],[26,-20],[29.3,-22.3]],[[-11.5,12.5],[-16.8,12.4]],[[-12,15],[-11.5,12.5],[-8,10.5],[-5.5,10.5],[-3,10.7]],[[-5.5,10.5],[-5.5,15.5]],[[-3,10.7],[0.5,11],[3.6,11.7]],[[-0.5,15],[1,15]],[[-3,10.7],[-0.5,15]],[[-13.3,9.3],[-11,10],[-8,10.5]],[[-11.4,7],[-8.5,7.6],[-7.5,4.4]],[[-3,5],[-3,10.7]],[[1.2,6],[0,11]],[[29.5,-4],[29.3,-8]],[[34.3,-9.5],[34.6,-13]],
[[36,36.7],[42,37.2],[44.7,37.2],[44.5,39.7]],[[41.6,41.5],[43.5,41],[44.5,39.7]],[[44.7,37.2],[46,35],[46,33],[48,30.5]],[[48,29.5],[46.5,29],[44.5,29.2],[39,32],[41,34.5],[42,37.2]],[[35,29.5],[39,32]],[[35.5,33],[39,32]],[[43,16.5],[47,17],[52,19],[55,20],[55.6,22],[52,24]],[[55.6,22],[56.3,24.7]],[[54,37.3],[57,38],[61,36.6],[60.8,34.5],[60.8,31.5],[61.5,29.7],[63,27],[61.5,25.2]],[[60.8,29.8],[66,29.8],[69,33],[71,34.5],[71.5,36.3],[75,37]],[[61,36.6],[64.5,37],[67.5,37.2],[71,38],[74.8,37.4]],[[53,42],[56,41.3],[58,42.7],[62,40.5],[65,37.5]],[[56,41.3],[56,45],[61,44],[66,41],[70,42.7],[74,43],[80.3,42.5]],[[70,40.8],[73.7,39.5]],[[67.5,39],[70,40.8]],[[71,38],[67.5,37.2]],[[44.5,39.7],[48,39.5],[46.5,41.8]],[[43.5,41],[46.5,41.5]],
[[101,21.3],[100.2,20.4]],[[105.5,14.3],[107.5,14.5]],[[102.2,22.4],[103.5,20]],
[[30.8,69.7],[25,68.7],[20.5,69],[18,68.5],[14.5,65],[12,63],[12.5,60.5],[11.3,59]],[[20.5,69],[23.7,68],[24,65.8]],[[24.4,57.9],[27.5,57.5]],[[21,56],[28,56]],[[23.5,53.8],[26,55.5],[28,56]],[[14.7,51],[18.8,49.5],[22.8,49],[23.6,51.5],[23.5,54],[19.5,54.4]],[[23.6,51.5],[31,52]],[[22.8,49],[24,47.9],[27,48.3],[29.5,45.5]],[[17,48],[22,48.3]],[[18.8,49.5],[17,48.7],[13.8,48.7]],[[17,48],[16,46.8],[13.7,46.5],[10,47]],[[16,46.8],[19,46],[21,46.2],[22,48.3]],[[21,46.2],[22.5,44],[28.5,43.8]],[[22.5,44],[23,41.3],[26.3,41.7],[28,42]],[[13.7,45.6],[19,45],[22.5,44]],[[19,42],[21,42.5],[23,41.3]],[[19.4,42],[20.8,40.8],[20,39.7]],[[7,46],[10,46.8],[13.7,46.5]],[[7.5,44],[7,46]],[[3.3,51.3],[6,51]],[[6,51],[7,53.5]],[[-8.8,42],[-6.5,41.7],[-7,39.5],[-7.4,37.2]],[[-1.7,43.4],[3,42.4]],
[[-72,11.8],[-72.5,8],[-72,7],[-67.5,6],[-67.5,2],[-66.3,0.8]],[[-78.8,1.4],[-75,-0.1],[-70,-4.3]],[[-80.3,-3.4],[-78.5,-4.5],[-75,-0.1]],[[-69,-10.9],[-69.5,-17.5],[-70.4,-18.3]],[[-69.5,-17.5],[-68.5,-21],[-67,-23]],[[-58,-20],[-62.6,-22.2]],[[-60,8.5],[-61,5.2]],[[-57,6],[-57.2,2]],[[-54,5.8],[-54.5,2.3]],
[[-89.1,17.9],[-89.2,15.9]],[[-88.5,15.8],[-87.5,13]],[[-85,14.9],[-86.5,13]],[[-83.7,11],[-85.7,11]],[[-82.8,9.5],[-83,8.2]]];
// ---------- LAYOUT ----------
const k = 1.2066;
const labelPos = {Canada:[158,275],Russia:[1008,288],UK:[501,378],Germany:[615,372],France:[474,420],China:[1101,413],Japan:[1119,452],Korea:[1061,500],Thailand:[1031,548],Vietnam:[1024,589],India:[849,590],Indonesia:[845,650],Australia:[914,706],US:[330,493],Mexico:[89,562],Brazil:[463,712],Argentina:[182,773]};

// ---------- PROJECTION (Robinson table fitted to the picture, cut in the Bering Strait) ----------
const robX=[1,.9986,.9954,.99,.9822,.973,.96,.9427,.9216,.8962,.8679,.835,.7986,.7597,.7186,.6732,.6213,.5722,.5322];
const robY=[0,.062,.124,.186,.248,.31,.372,.434,.4958,.5571,.6176,.6769,.7346,.7903,.8435,.8936,.9394,.9761,1];
const robYNorth=[0,.062,.124,.186,.248,.31,.372,.434,.492,.548,.604,.661,.717,.772,.825,.875,.92,.957,.98];
const cut = 11*Math.PI/180;
function lookup(t,a){const v=Math.min(17.999,Math.abs(a)*180/Math.PI/5),i=Math.floor(v);return t[i]+(t[i+1]-t[i])*(v-i);}
function robinsonRaw(l,p){
  const lon=l+cut, latDeg=p*180/Math.PI;
  const west = lon<0 && latDeg>35 ? 1-0.022*Math.min(1,(latDeg-35)/20) : 1;
  return [0.8487*lookup(robX,p)*lon*west, 1.3523*(p>0?lookup(robYNorth,p):-lookup(robY,p))];
}
const mapScale = 319.4;
const projection = d3.geoProjection(robinsonRaw).rotate([-11,0]).scale(mapScale).translate([720.3+mapScale*0.8487*cut,751.7]).precision(0);
const path = d3.geoPath(projection);
function poly(ring){let f={type:"Polygon",coordinates:[ring.concat([ring[0]])]};
  if(d3.geoArea(f)>2*Math.PI) f={type:"Polygon",coordinates:[ring.slice().reverse().concat([ring[ring.length-1]])]};return f;}

// ---------- DRAW ----------
const svg=d3.select("body").append("svg").attr("width",1892).attr("height",1134).attr("viewBox","0 0 1892 1134");
const landColor="#c2c5c7";
const map=svg.append("g");
map.selectAll("path.gray").data(grayLand).join("path").attr("class","gray").attr("d",d=>path(poly(d))).attr("fill",landColor);
map.selectAll("path.pale").data(paleLand).join("path").attr("class","pale").attr("d",d=>path(poly(d))).attr("fill","#e3e5e6");
map.append("path").datum({type:"MultiLineString",coordinates:grayBorders}).attr("d",path).attr("fill","none").attr("stroke","#fff").attr("stroke-width",1);
map.selectAll("path.lake").data(whiteLakes.slice(0,3)).join("path").attr("class","lake").attr("d",d=>path(poly(d))).attr("fill","#fff");
marketNames.forEach((n,i)=>{
  map.append("g").attr("data-market",n).selectAll("path").data(marketLands[i]).join("path")
    .attr("d",d=>path(poly(d))).attr("fill",scaleColors[marketLevels[i]]).attr("stroke","#fff").attr("stroke-width",.7).attr("stroke-linejoin","round");
});
map.selectAll("path.lake2").data(whiteLakes.slice(3)).join("path").attr("class","lake2").attr("d",d=>path(poly(d))).attr("fill","#fff");

// title
const title=svg.append("g").attr("font-family","'Liberation Sans Narrow','Liberation Sans',sans-serif").attr("font-weight",700).attr("fill","#000").attr("stroke","#000").attr("stroke-width",2);
title.append("text").attr("x",234).attr("y",75).attr("font-size",60).attr("textLength",1040).attr("lengthAdjust","spacingAndGlyphs").text(titleLines[0]);
title.append("text").attr("x",234).attr("y",139).attr("font-size",60).attr("textLength",505).attr("lengthAdjust","spacingAndGlyphs").text(titleLines[1]);
title.append("text").attr("x",741).attr("y",118).attr("font-size",42).attr("stroke-width",.6).text("*");
svg.append("line").attr("x1",246).attr("x2",1357).attr("y1",176.5).attr("y2",176.5).attr("stroke","#cfd1d2").attr("stroke-width",1.5);

// logo
const logo=svg.append("g").attr("fill","#cfd1d3").attr("transform","scale(.9949)");
[[[1116,220],[1135,257],[1110,272],[1095,245]],[[1069,246],[1095,245],[1114,277],[1082,277]],[[1114,277],[1135,276],[1145,292],[1122,290]],[[1103,283],[1122,292],[1110,310]]]
 .forEach(p=>logo.append("polygon").attr("points",p.join(" ")));
logo.append("text").attr("x",1152).attr("y",285).attr("font-family","Lato,'Liberation Sans Narrow',sans-serif").attr("font-weight",300).attr("font-size",60).attr("textLength",226).attr("lengthAdjust","spacingAndGlyphs").text("AppsFlyer");

// market labels
const lab=svg.append("g").selectAll("g").data(marketNames).join("g");
lab.append("rect").attr("x",d=>labelPos[d][0]*k).attr("y",d=>labelPos[d][1]*k-8.5).attr("width",17).attr("height",17)
  .attr("fill",(d,i)=>scaleColors[marketLevels[i]]);
lab.append("text").attr("x",d=>labelPos[d][0]*k+24).attr("y",d=>labelPos[d][1]*k+8)
  .attr("font-family","Inter,'Noto Sans',sans-serif").attr("font-weight",500).attr("font-size",23).attr("letter-spacing",.5).attr("fill","#1c1c1c").text(d=>d);

// footnote
svg.append("text").attr("x",277.5).attr("y",1095).attr("font-family","Inter,'Noto Sans',sans-serif").attr("font-size",20.5).attr("fill","#333")
  .attr("textLength",1016).attr("lengthAdjust","spacingAndGlyphs").text(footnote);

// fraud scale panel
const panel=svg.append("g");
panel.append("rect").attr("x",1713.5).attr("y",50.5).attr("width",136).attr("height",1052).attr("fill","#fff").attr("stroke","#cdd0d2").attr("stroke-width",1.5);
const band=d3.scaleBand().domain(d3.range(scaleColors.length)).range([225.5,930]).paddingInner(.1);
panel.selectAll("rect.sw").data(scaleColors).join("rect").attr("class","sw").attr("x",1760.5).attr("width",37.5).attr("y",(d,i)=>band(i)).attr("height",band.bandwidth()).attr("fill",d=>d);
const tg=panel.append("g").attr("font-family","'Open Sans',sans-serif").attr("font-size",28.5).attr("fill","#222").attr("text-anchor","middle");
const hi=tg.append("text");highLabel.forEach((t,i)=>hi.append("tspan").attr("x",1777).attr("y",133+i*35).text(t));
const lo=tg.append("text");lowLabel.forEach((t,i)=>lo.append("tspan").attr("x",1776).attr("y",986+i*35).text(t));
</script></body></html>
